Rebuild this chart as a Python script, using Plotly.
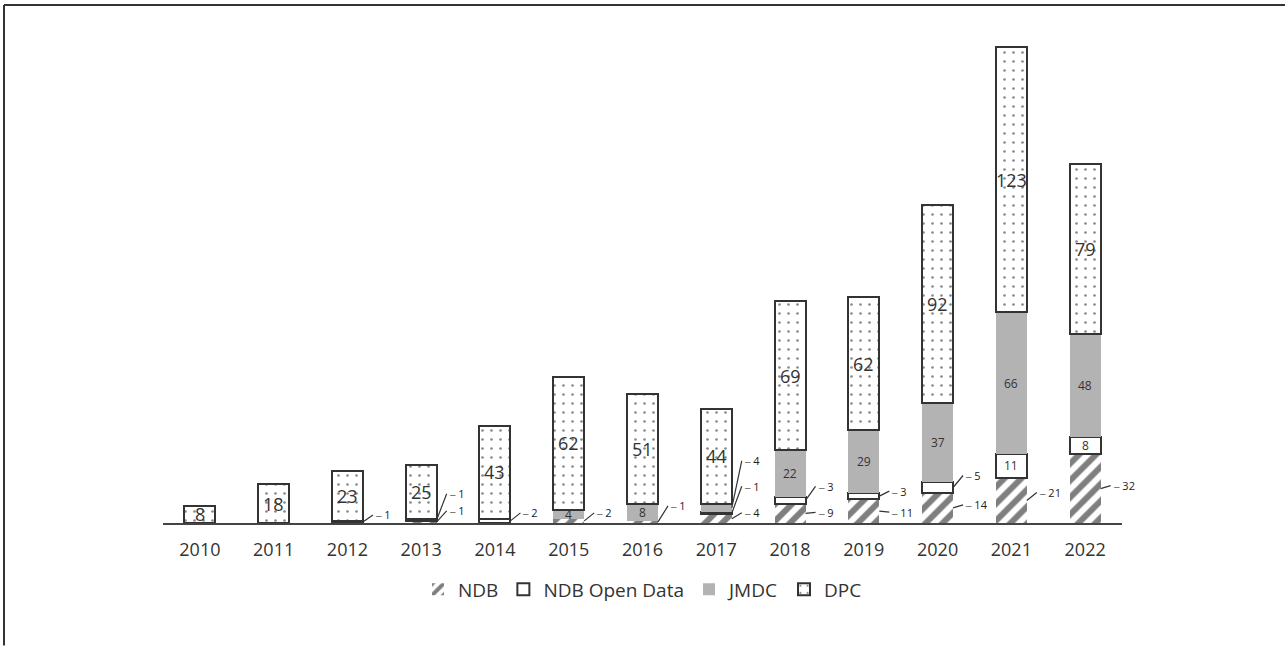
import plotly.graph_objects as go

# ---------------- data ----------------
years = ["2010", "2011", "2012", "2013", "2014", "2015", "2016",
         "2017", "2018", "2019", "2020", "2021", "2022"]
ndb = [0, 0, 0, 1, 0, 2, 1, 4, 9, 11, 14, 21, 32]
ndb_open = [0, 0, 1, 1, 2, 0, 0, 1, 3, 3, 5, 11, 8]
jmdc = [0, 0, 0, 0, 0, 4, 8, 4, 22, 29, 37, 66, 48]
dpc = [8, 18, 23, 25, 43, 62, 51, 44, 69, 62, 92, 123, 79]
series_names = ["NDB", "NDB Open Data", "JMDC", "DPC"]

# ---------------- style ----------------
FONT = "Open Sans"
TXT = "#333333"
EDGE = "#333333"
BAR_W = 0.42
# segments labelled outside with a leader line: (series index, year index) -> pixel offset
outside = {
    (1, 2): -7,
    (0, 3): -11, (1, 3): -26,
    (1, 4): -8,
    (0, 5): -8,
    (0, 6): -16,
    (0, 7): -6, (1, 7): -27, (2, 7): -47,
    (0, 8): -1, (1, 8): -14,
    (0, 9): 1, (1, 9): -5,
    (0, 10): -3, (1, 10): -12,
    (0, 11): -8,
    (0, 12): -3,
}
styles = [
    dict(color="white", line=dict(width=0),
         pattern=dict(shape="/", fgcolor="#000000", bgcolor="white", size=12, solidity=0.5)),
    dict(color="white", line=dict(width=2, color=EDGE)),
    dict(color="#b3b3b3", line=dict(width=0)),
    dict(color="white", line=dict(width=2, color=EDGE),
         pattern=dict(shape=".", fgcolor="#111111", bgcolor="white", size=9, solidity=0.07)),
]
inside_size = [12, 12, 12, 18]

all_series = [ndb, ndb_open, jmdc, dpc]

fig = go.Figure()
for name, vals, st in zip(series_names, all_series, styles):
    fig.add_trace(go.Bar(
        name=name, x=years, y=[v if v else None for v in vals],
        width=BAR_W, marker=st, hoverinfo="skip",
    ))

annotations = []
for i in range(len(years)):
    base = 0
    for s, vals in enumerate(all_series):
        v = vals[i]
        if v:
            mid = base + v / 2
            if (s, i) in outside:
                annotations.append(dict(
                    x=i + BAR_W / 2, y=mid, xref="x", yref="y",
                    text="‒ " + str(v), showarrow=True, arrowhead=0,
                    arrowwidth=1.2, arrowcolor="#333333",
                    ax=10, ay=outside[(s, i)], xanchor="left",
                    font=dict(family=FONT, size=11, color="#222222"),
                ))
            else:
                annotations.append(dict(
                    x=i, y=mid, xref="x", yref="y", text=str(v),
                    showarrow=False,
                    font=dict(family=FONT, size=inside_size[s], color=TXT),
                ))
        base += v

# page geometry (pixels)
W, H = 1285, 646
L, R = 163, 1122
T, B = 30, 523.5
ymax = (B - T) / 2.154


def px(xp):
    return (xp - L) / (R - L)


def py(yp):
    return (B - yp) / (B - T)


shapes = [
    dict(type="line", xref="paper", yref="paper", x0=px(4), x1=px(W), y0=py(5), y1=py(5),
         line=dict(color="#333333", width=2)),
    dict(type="line", xref="paper", yref="paper", x0=px(4), x1=px(4), y0=py(5), y1=py(H),
         line=dict(color="#333333", width=2)),
]

fig.update_layout(
    width=W, height=H,
    margin=dict(l=L, r=W - R, t=T, b=H - B),
    barmode="stack",
    plot_bgcolor="white", paper_bgcolor="white",
    font=dict(family=FONT, color=TXT),
    showlegend=True,
    legend=dict(orientation="h", x=0.5, xanchor="center", y=py(590), yanchor="middle",
                font=dict(family=FONT, size=19, color=TXT), traceorder="normal",
                itemwidth=30),
    annotations=annotations,
    shapes=shapes,
)
fig.update_xaxes(type="category", showline=True, linecolor="#444444", linewidth=1.5,
                 ticks="", showgrid=False, zeroline=False,
                 tickfont=dict(family=FONT, size=18, color=TXT),
                 ticklabelstandoff=10, range=[-0.5, len(years) - 0.5])
fig.update_yaxes(range=[0, ymax], showticklabels=False, showgrid=False, zeroline=False,
                 showline=False, ticks="")

fig.write_html("out.html", config={"displayModeBar": False},
               post_script="document.body.style.margin='0';")
